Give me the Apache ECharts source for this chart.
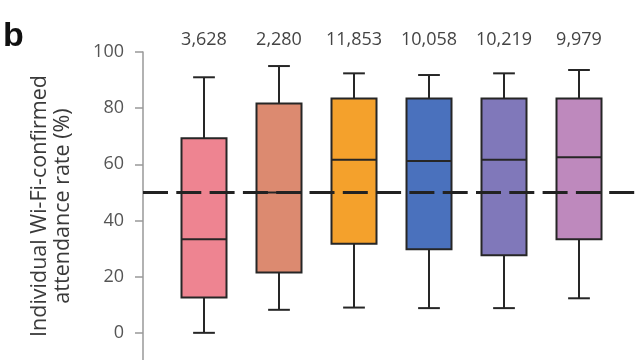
<!DOCTYPE html>
<html>
<head>
<meta charset="utf-8">
<script src="https://cdn.jsdelivr.net/npm/echarts@6/dist/echarts.min.js"></script>
<style>html,body{margin:0;padding:0;background:#fff}#c{width:640px;height:360px}</style>
</head>
<body>
<div id="c"></div>
<script>
var counts = ['3,628', '2,280', '11,853', '10,058', '10,219', '9,979'];
var mins = [0, 8.2, 9, 8.8, 8.8, 12.3];
var q1s = [12.6, 21.5, 31.7, 29.8, 27.6, 33.3];
var medians = [33.3, 50, 61.6, 61.2, 61.6, 62.5];
var q3s = [69.3, 81.7, 83.4, 83.4, 83.4, 83.4];
var maxs = [91, 95, 92.4, 91.8, 92.4, 93.6];
var colors = ['#EE8491', '#DC8A70', '#F4A12C', '#4A71BD', '#8078BA', '#BE89BD'];
var yTicks = [0, 20, 40, 60, 80, 100];
var threshold = 50;

var FONT = '"Open Sans", "Liberation Sans", sans-serif';
var boxData = counts.map(function (c, i) {
  return [i, mins[i], q1s[i], medians[i], q3s[i], maxs[i]];
});

var chart = echarts.init(document.getElementById('c'), null, {renderer: 'canvas'});
chart.setOption({
  animation: false,
  backgroundColor: '#fff',
  grid: [
    {left: 166.5, top: 52, width: 450, height: 337, outerBoundsMode: 'none', containLabel: false},
    {left: 143, top: 52, width: 497, height: 337, outerBoundsMode: 'none', containLabel: false}
  ],
  xAxis: [
    {type: 'category', gridIndex: 0, data: counts, position: 'top',
     axisLine: {show: false}, axisTick: {show: false}, splitLine: {show: false},
     axisLabel: {margin: 3, fontSize: 18, color: '#444', fontFamily: FONT}},
    {type: 'value', gridIndex: 1, min: 0, max: 1, show: false}
  ],
  yAxis: [
    {type: 'value', gridIndex: 0, min: -20, max: 100, interval: 20, offset: 23.5,
     splitLine: {show: false},
     axisLine: {show: true, lineStyle: {color: '#999', width: 1.5}},
     axisTick: {show: true, length: 8, lineStyle: {color: '#999', width: 1.5}},
     axisLabel: {margin: 19, fontSize: 18, color: '#555', fontFamily: FONT,
       formatter: function (v) { return yTicks.indexOf(v) >= 0 ? String(v) : ''; }}},
    {type: 'value', gridIndex: 1, min: -20, max: 100, show: false}
  ],
  graphic: [
    {type: 'text', left: 3, top: 20, style: {text: 'b', font: 'bold 34px "Liberation Sans", sans-serif', fill: '#111'}},
    {type: 'text', x: 51, y: 206, rotation: Math.PI / 2,
     style: {text: 'Individual Wi-Fi-confirmed\nattendance rate (%)', font: '21.5px ' + FONT,
       fill: '#3a3a3a', align: 'center', verticalAlign: 'middle', lineHeight: 23}}
  ],
  series: [
    {
      type: 'custom', xAxisIndex: 0, yAxisIndex: 0, data: boxData, z: 2,
      renderItem: function (params, api) {
        var i = api.value(0);
        var band = api.size([1, 0])[0];
        var bw = band * 0.6, cw = band * 0.29;
        var pMin = api.coord([i, api.value(1)]);
        var pQ1 = api.coord([i, api.value(2)]);
        var pMed = api.coord([i, api.value(3)]);
        var pQ3 = api.coord([i, api.value(4)]);
        var pMax = api.coord([i, api.value(5)]);
        var x = pMed[0];
        var ls = {stroke: '#262626', lineWidth: 2};
        return {
          type: 'group',
          children: [
            {type: 'line', shape: {x1: x, y1: pMax[1], x2: x, y2: pQ3[1]}, style: ls},
            {type: 'line', shape: {x1: x, y1: pQ1[1], x2: x, y2: pMin[1]}, style: ls},
            {type: 'line', shape: {x1: x - cw / 2, y1: pMax[1], x2: x + cw / 2, y2: pMax[1]}, style: ls},
            {type: 'line', shape: {x1: x - cw / 2, y1: pMin[1], x2: x + cw / 2, y2: pMin[1]}, style: ls},
            {type: 'rect', shape: {x: x - bw / 2, y: pQ3[1], width: bw, height: pQ1[1] - pQ3[1]},
             style: {fill: colors[params.dataIndex], stroke: '#262626', lineWidth: 2}},
            {type: 'line', shape: {x1: x - bw / 2, y1: pMed[1], x2: x + bw / 2, y2: pMed[1]}, style: ls}
          ]
        };
      }
    },
    {
      type: 'line', xAxisIndex: 1, yAxisIndex: 1, z: 5, symbol: 'none', silent: true,
      data: [[0, threshold], [1, threshold]],
      lineStyle: {color: '#222', width: 3, type: [25, 8.3]}
    }
  ]
});
</script>
</body>
</html>
